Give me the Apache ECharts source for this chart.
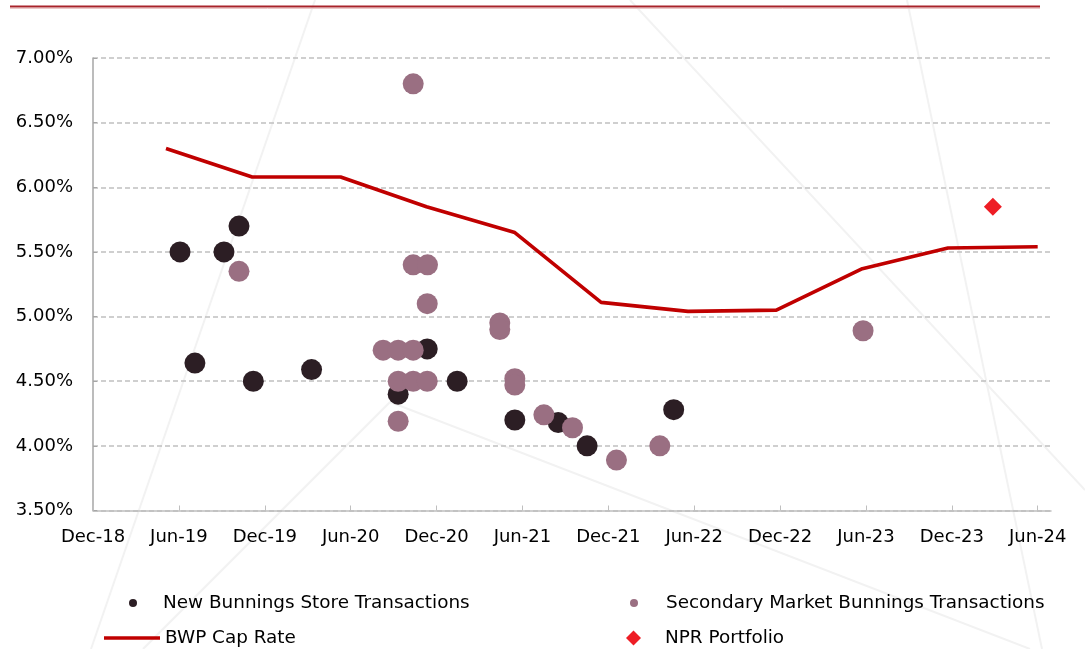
<!DOCTYPE html>
<html>
<head>
<meta charset="utf-8">
<script src="https://cdn.jsdelivr.net/npm/echarts@6/dist/echarts.min.js"></script>
<style>
html,body{margin:0;padding:0;background:#fff;}
#chart{width:1085px;height:649px;}
</style>
</head>
<body>
<div id="chart"></div>
<script>
// x values are months since Dec-18
var xTickLabels = ['Dec-18','Jun-19','Dec-19','Jun-20','Dec-20','Jun-21','Dec-21','Jun-22','Dec-22','Jun-23','Dec-23','Jun-24'];

var newStoreX = [6.08, 9.15, 10.2, 7.12, 11.2, 15.27, 23.35, 21.32, 25.44, 29.47, 32.5, 34.52, 40.57];
var newStoreY = [5.50, 5.50, 5.70, 4.64, 4.50, 4.59, 4.75, 4.40, 4.50, 4.20, 4.18, 4.00, 4.28];

var secondaryX = [10.2, 22.37, 22.37, 23.37, 23.35, 20.27, 21.32, 22.37, 21.32, 22.37, 23.35, 21.32, 28.42, 28.42, 29.47, 29.47, 31.5, 33.5, 36.57, 39.6, 53.8];
var secondaryY = [5.35, 6.80, 5.40, 5.40, 5.10, 4.74, 4.74, 4.74, 4.50, 4.50, 4.50, 4.19, 4.95, 4.90, 4.52, 4.47, 4.24, 4.14, 3.89, 4.00, 4.89];

var bwpX = [5.1, 11.12, 17.3, 23.3, 29.47, 35.5, 41.57, 47.74, 53.75, 59.73, 66.0];
var bwpY = [6.30, 6.08, 6.08, 5.85, 5.65, 5.11, 5.04, 5.05, 5.37, 5.53, 5.54];

var nprX = [62.87];
var nprY = [5.85];

function zip(a, b) { return a.map(function (v, i) { return [v, b[i]]; }); }

var FONT = 'DejaVu Sans';
var chart = echarts.init(document.getElementById('chart'));

function legendAt(name, left, top, icon, w, h, pad) {
  return {
    data: [name], left: left, top: top, icon: icon,
    itemWidth: w, itemHeight: h, selectedMode: false,
    padding: 0,
    textStyle: { fontFamily: FONT, fontSize: 18.4, color: '#000', padding: [0, 0, 0, pad], lineHeight: 22 }
  };
}

var bgLine = { stroke: '#f2f2f2', lineWidth: 2 };
chart.setOption({
  animation: false,
  backgroundColor: '#fff',
  graphic: [
    { type: 'line', z: -10, shape: { x1: 315, y1: 0, x2: 91, y2: 649 }, style: bgLine, silent: true },
    { type: 'line', z: -10, shape: { x1: 630, y1: 0, x2: 1085, y2: 490 }, style: bgLine, silent: true },
    { type: 'line', z: -10, shape: { x1: 907, y1: 0, x2: 1042, y2: 649 }, style: bgLine, silent: true },
    { type: 'line', z: -10, shape: { x1: 390, y1: 402, x2: 143, y2: 649 }, style: bgLine, silent: true },
    { type: 'line', z: -10, shape: { x1: 390, y1: 402, x2: 1030, y2: 649 }, style: bgLine, silent: true },
    { type: 'line', shape: { x1: 10, y1: 6.5, x2: 1040, y2: 6.5 }, style: { stroke: '#a8232a', lineWidth: 2 }, silent: true },
    { type: 'line', shape: { x1: 10, y1: 8.5, x2: 1040, y2: 8.5 }, style: { stroke: '#ecc8c8', lineWidth: 1 }, silent: true }
  ],
  grid: { left: 93, right: 34, top: 58, bottom: 138.5, containLabel: false },
  xAxis: {
    type: 'value', min: 0, max: 66.93, interval: 6,
    axisLine: { show: true, lineStyle: { color: '#bfbfbf', width: 1.5 } },
    axisTick: { show: true, inside: true, length: 5, lineStyle: { color: '#bfbfbf', width: 1 } },
    splitLine: { show: false },
    axisLabel: {
      showMaxLabel: false,
      margin: 18,
      fontFamily: FONT, fontSize: 18, color: '#000',
      formatter: function (v) {
        var i = Math.round(v / 6);
        return Math.abs(v - i * 6) < 1e-6 ? (xTickLabels[i] || '') : '';
      }
    }
  },
  yAxis: {
    type: 'value', min: 3.5, max: 7.0, interval: 0.5,
    axisLine: { show: true, lineStyle: { color: '#a6a6a6', width: 1.5 } },
    axisTick: { show: true, inside: true, length: 4, lineStyle: { color: '#a6a6a6' } },
    splitLine: { show: true, lineStyle: { color: '#c0c0c0', type: [5, 3], width: 1.5 } },
    axisLabel: {
      margin: 20,
      fontFamily: FONT, fontSize: 18, color: '#000',
      formatter: function (v) { return v.toFixed(2) + '%'; }
    }
  },
  legend: [
    legendAt('New Bunnings Store Transactions', 129, 592, 'circle', 8, 8, 21),
    legendAt('Secondary Market Bunnings Transactions', 630, 592, 'circle', 8, 8, 23),
    legendAt('BWP Cap Rate', 104, 627, 'rect', 56, 3.5, 0),
    legendAt('NPR Portfolio', 626, 627, 'diamond', 15, 15, 19)
  ],
  series: [
    {
      name: 'BWP Cap Rate', type: 'line', data: zip(bwpX, bwpY),
      symbol: 'none', lineStyle: { color: '#c00000', width: 3.6 }, itemStyle: { color: '#c00000' }, z: 2
    },
    {
      name: 'New Bunnings Store Transactions', type: 'scatter', data: zip(newStoreX, newStoreY),
      symbol: 'circle', symbolSize: 21, itemStyle: { color: '#2c1e24', opacity: 1 }, z: 3
    },
    {
      name: 'Secondary Market Bunnings Transactions', type: 'scatter', data: zip(secondaryX, secondaryY),
      symbol: 'circle', symbolSize: 21, itemStyle: { color: '#9a6f82', opacity: 1 }, z: 4
    },
    {
      name: 'NPR Portfolio', type: 'scatter', data: zip(nprX, nprY),
      symbol: 'diamond', symbolSize: 18, itemStyle: { color: '#ee1d25', opacity: 1 }, z: 5
    }
  ]
});
</script>
</body>
</html>
